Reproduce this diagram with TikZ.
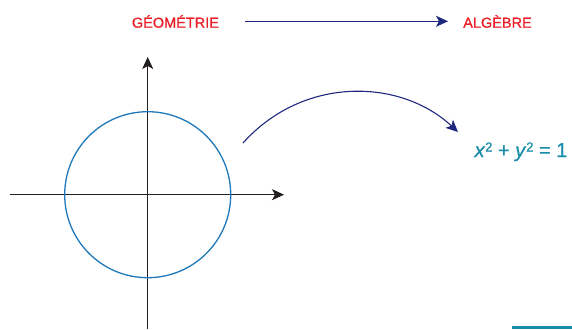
\documentclass[tikz,border=0pt]{standalone}
\usepackage{fontspec}
\setmainfont{Liberation Sans}
\newfontfamily\semib{Liberation Sans}[FakeBold=0.7]
\usetikzlibrary{arrows.meta}
\definecolor{titred}{RGB}{235,30,40}
\definecolor{navy}{RGB}{30,40,125}
\definecolor{circblue}{RGB}{30,120,185}
\definecolor{eqteal}{RGB}{25,140,170}
\definecolor{axisdark}{RGB}{35,31,32}
\tikzset{
  title/.style={text=titred, font=\semib\fontsize{14.5}{16}\selectfont, inner sep=0pt, anchor=base},
  navyarrow/.style={draw=navy, line width=1.1pt, -{Stealth[length=12pt,width=11pt,inset=3pt]}},
  axisline/.style={draw=axisdark, line width=1.3pt, -{Stealth[length=12pt,width=11pt,inset=3pt]}},
}
\newcommand{\sqr}{\raisebox{5.5pt}{\fontsize{13}{14}\selectfont 2}}
\begin{document}
\begin{tikzpicture}[x=1pt,y=-1pt]
\useasboundingbox (0,0) rectangle (572,329);
% titles
\node[title] (geo) at (175.4,27.7) {GÉOMÉTRIE};
\node[title] (alg) at (497.5,27.7) {ALGÈBRE};
\coordinate (ts) at (245,21.3);
\coordinate (te) at (448,21.3);
\draw[navyarrow] (ts) -- (te);
% axes
\coordinate (O) at (147.7,194.7);
\coordinate (xl) at (10,194.7);
\coordinate (xr) at (284,194.7);
\coordinate (yb) at (147.7,329);
\coordinate (yt) at (147.7,57);
\draw[axisline] (xl) -- (xr);
\draw[axisline] (yb) -- (yt);
% circle
\draw[circblue, line width=1.3pt] (O) circle[radius=83];
% equation
\node[text=eqteal, font=\semib\fontsize{20}{24}\selectfont, inner sep=0pt, anchor=base] (eq) at (521,157)
  {\textit{x}\sqr{} + \textit{y}\sqr{} = 1};
% curved arrow
\coordinate (cs) at (243,143);
\coordinate (ce) at (458,132);
\draw[navyarrow] (cs) .. controls (303,76) and (400,78) .. (ce);
% bottom line
\coordinate (bl) at (512,327.3);
\coordinate (br) at (572,327.3);
\draw[eqteal, line width=2.7pt] (bl) -- (br);
\end{tikzpicture}
\end{document}
